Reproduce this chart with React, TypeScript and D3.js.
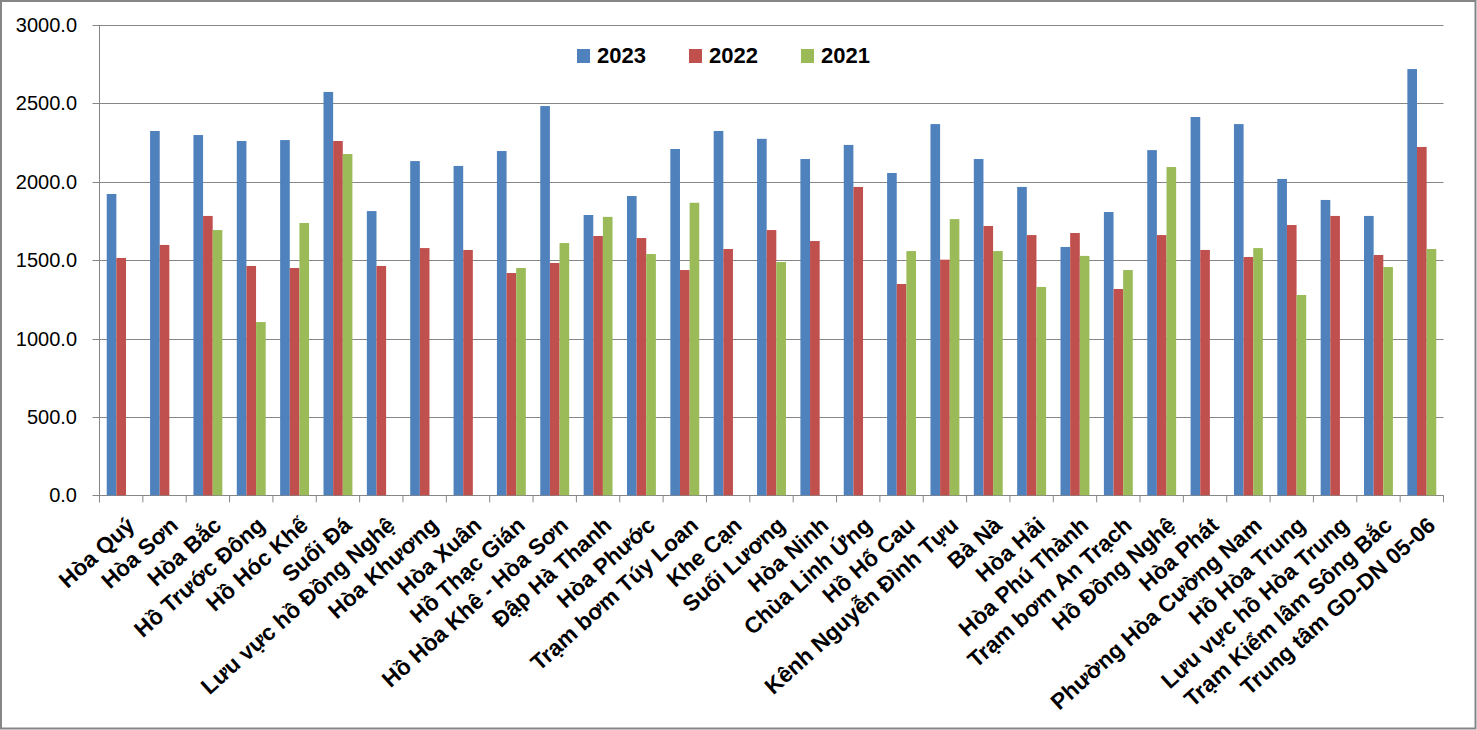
import React from "react";
import * as d3 from "d3";

const categories = [
  "Hòa Quý", "Hòa Sơn", "Hòa Bắc", "Hồ Trước Đông", "Hồ Hóc Khế", "Suối Đá",
  "Lưu vực hồ Đồng Nghệ", "Hòa Khương", "Hòa Xuân", "Hồ Thạc Gián",
  "Hồ Hòa Khê - Hòa Sơn", "Đập Hà Thanh", "Hòa Phước", "Trạm bơm Túy Loan",
  "Khe Cạn", "Suối Lương", "Hòa Ninh", "Chùa Linh Ứng", "Hồ Hố Cau",
  "Kênh Nguyễn Đình Tựu", "Bà Nà", "Hòa Hải", "Hòa Phú Thành",
  "Trạm bơm An Trạch", "Hồ Đồng Nghệ", "Hòa Phát", "Phường Hòa Cường Nam",
  "Hồ Hòa Trung", "Lưu vực hồ Hòa Trung", "Trạm Kiểm lâm Sông Bắc",
  "Trung tâm GD-DN 05-06",
];

const values2023 = [
  1922, 2324, 2298, 2260, 2266, 2573, 1813, 2132, 2101, 2196, 2483, 1788, 1909,
  2209, 2324, 2274, 2145, 2235, 2056, 2368, 2145, 1967, 1584, 1807, 2202, 2413,
  2368, 2018, 1884, 1782, 2719,
];
const values2022 = [
  1514, 1597, 1782, 1463, 1450, 2260, 1463, 1577, 1565, 1418, 1482, 1654, 1641,
  1437, 1571, 1692, 1622, 1967, 1348, 1503, 1718, 1660, 1673, 1316, 1660, 1565,
  1520, 1724, 1782, 1533, 2222,
];
const values2021: (number | null)[] = [
  null, null, 1692, 1105, 1737, 2177, null, null, null, 1450, 1609, 1776, 1539,
  1866, null, 1488, null, null, 1558, 1762, 1558, 1329, 1527, 1437, 2094, null,
  1577, 1278, null, 1456, 1571,
];

const seriesNames = ["2023", "2022", "2021"];
const seriesColors = ["#4F81BD", "#C0504D", "#9BBB59"];
const yTicks = [0, 500, 1000, 1500, 2000, 2500, 3000];

const W = 1477;
const H = 730;
const plotLeft = 99.5;
const plotRight = 1443.5;
const plotTop = 25;
const plotBottom = 495.3;

export default function App() {
  const allSeries = [values2023, values2022, values2021];
  const x0 = d3.scaleBand<string>().domain(categories).range([plotLeft, plotRight]).paddingInner(0).paddingOuter(0);
  const bw = x0.bandwidth();
  const barW = bw / 4.5;
  const x1 = d3
    .scaleBand<string>()
    .domain(seriesNames)
    .range([barW * 0.75, barW * 3.75])
    .padding(0);
  const y = d3.scaleLinear().domain([0, 3000]).range([plotBottom, plotTop]);
  const font = "'Liberation Sans', Arial, sans-serif";
  const grid = "#868686";

  return (
    <svg
      width={W}
      height={H}
      style={{ position: "absolute", left: 0, top: 0, background: "#fff" }}
      fontFamily={font}
    >
      <rect x={1} y={1} width={W - 2.5} height={H - 2.5} fill="#fff" stroke="#868686" strokeWidth={2} />
      {yTicks.map((t) => (
        <g key={t}>
          <line x1={plotLeft - 7} x2={plotRight} y1={Math.round(y(t)) + 0.5} y2={Math.round(y(t)) + 0.5} stroke={grid} strokeWidth={1} />
          <text x={77} y={y(t)} dy="0.35em" textAnchor="end" fontSize={20} fill="#000">
            {d3.format(".1f")(t)}
          </text>
        </g>
      ))}
      <line x1={plotLeft} x2={plotLeft} y1={plotTop} y2={plotBottom + 7} stroke={grid} strokeWidth={1} />
      {categories.concat(["__end"]).map((c, i) => {
        const xx = plotLeft + i * bw;
        return <line key={"t" + i} x1={xx} x2={xx} y1={plotBottom} y2={plotBottom + 7} stroke={grid} strokeWidth={1} />;
      })}
      {allSeries.map((vals, si) => (
        <g key={si} fill={seriesColors[si]}>
          {vals.map((v, ci) =>
            v == null ? null : (
              <rect
                key={ci}
                x={(x0(categories[ci]) as number) + (x1(seriesNames[si]) as number)}
                y={y(v)}
                width={x1.bandwidth()}
                height={y(0) - y(v)}
              />
            )
          )}
        </g>
      ))}
      {categories.map((c) => {
        const cx = (x0(c) as number) + bw / 2;
        return (
          <text
            key={c}
            transform={`translate(${cx + 15},${plotBottom + 32}) rotate(-42)`}
            textAnchor="end"
            fontSize={22.5}
            fontWeight="bold"
            fill="#000"
          >
            {c}
          </text>
        );
      })}
      {seriesNames.map((s, i) => {
        const lx = [577, 689, 801][i];
        return (
          <g key={s}>
            <rect x={lx} y={49} width={13} height={14} fill={seriesColors[i]} />
            <text x={lx + 20} y={63} fontSize={22} fontWeight="bold" fill="#000">
              {s}
            </text>
          </g>
        );
      })}
    </svg>
  );
}
